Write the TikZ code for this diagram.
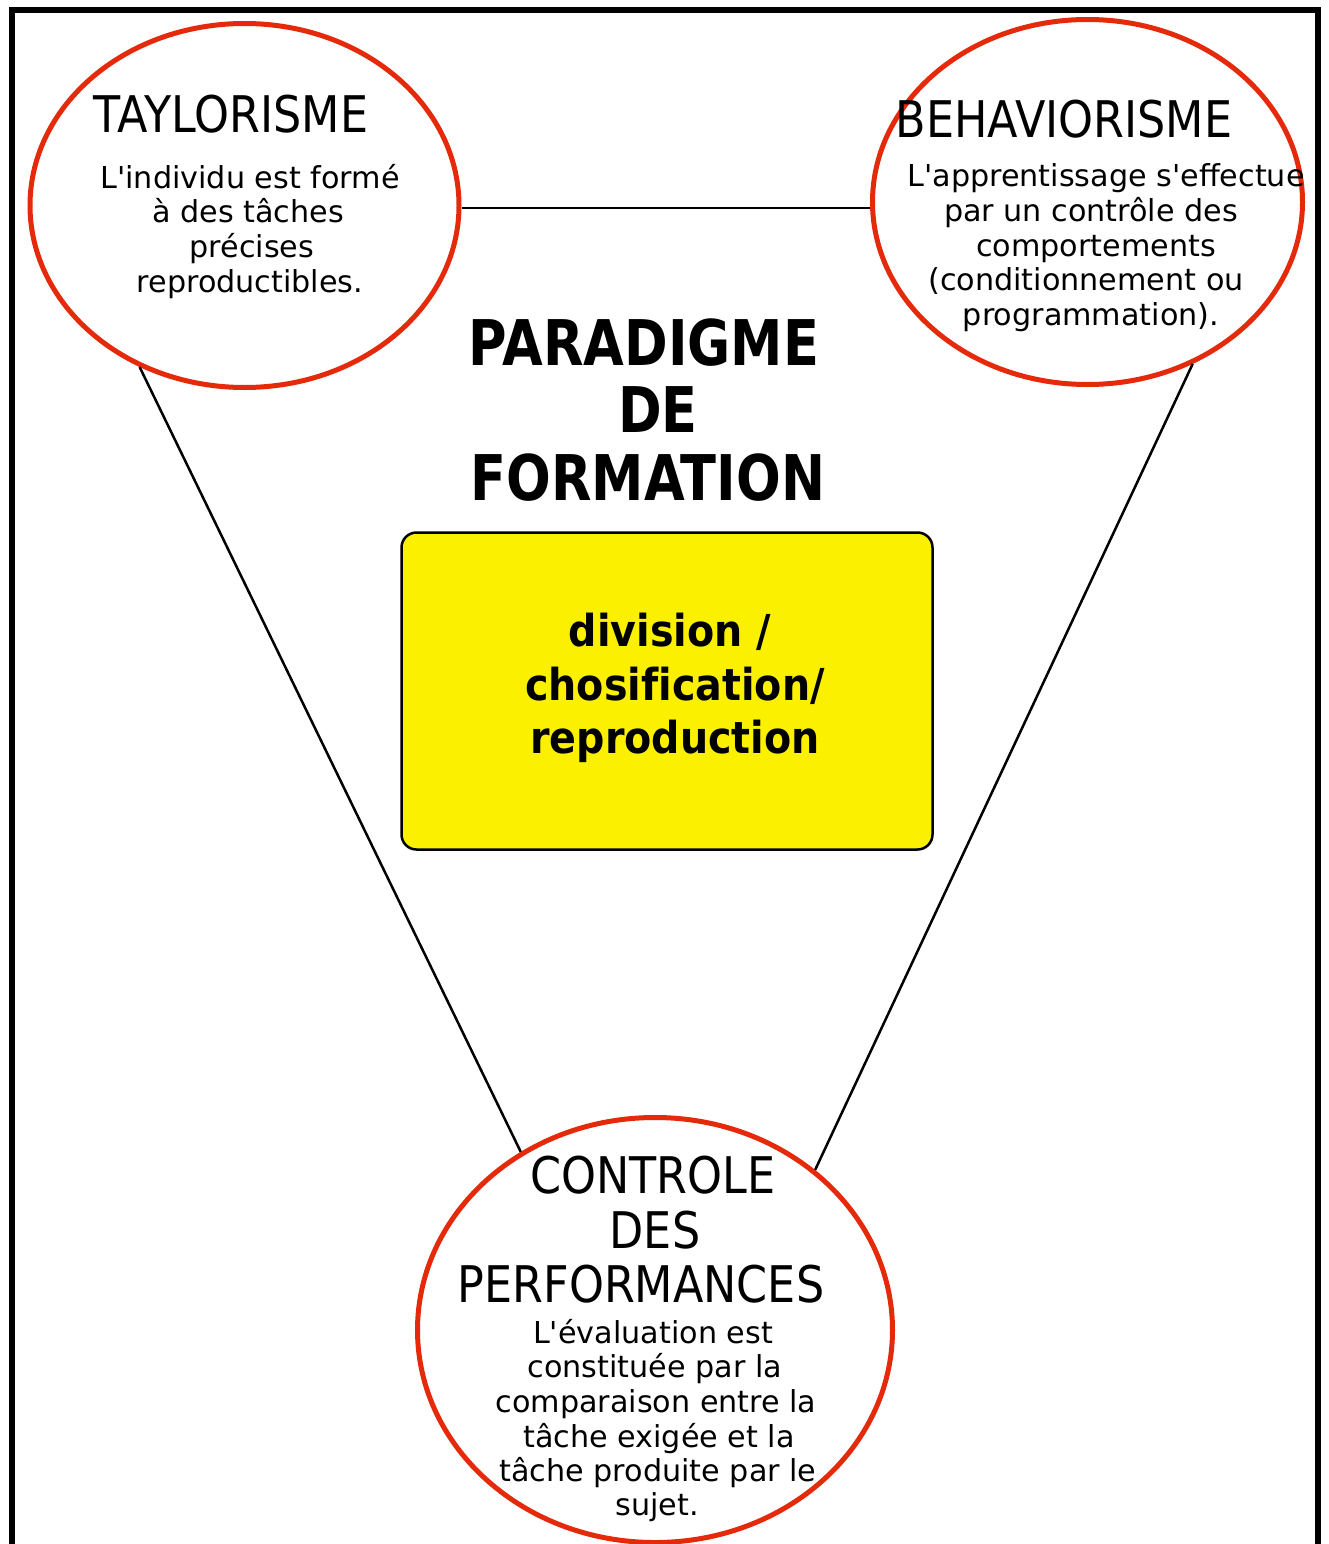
\documentclass[tikz,border=0pt]{standalone}
\usepackage{fontspec}
\setmainfont{DejaVu Sans}
\newfontfamily\headfont[FakeStretch=0.88]{DejaVu Sans}
\newfontfamily\bigfont[FakeStretch=0.835]{DejaVu Sans Bold}
\newfontfamily\boxfont[FakeStretch=0.9,Ligatures=NoCommon]{DejaVu Sans Bold}
\usetikzlibrary{shapes.geometric}
\definecolor{ovalred}{RGB}{228,42,10}
\definecolor{boxyellow}{RGB}{250,240,0}
\newcommand{\sq}{\textquotesingle}
\begin{document}
\begin{tikzpicture}[x=1pt,y=-1pt,
  oval/.style={ellipse, draw=ovalred, line width=5pt, inner sep=0pt},
  head/.style={anchor=base, inner sep=0pt, font=\headfont\fontsize{50.5}{54}\selectfont},
  body/.style={anchor=base, inner sep=0pt, font=\fontsize{30.2}{35}\selectfont},
  big/.style={anchor=base, inner sep=0pt, font=\bigfont\fontsize{63}{68}\selectfont},
  boxtxt/.style={anchor=base, inner sep=0pt, font=\boxfont\fontsize{44}{53}\selectfont},
  link/.style={draw=black, line width=2.5pt}]
\useasboundingbox (0,0) rectangle (1328,1544);
\fill[white] (0,0) rectangle (1328,1544);
% frame
\draw[line width=6pt, line join=miter] (12,1560) -- (12,10) -- (1318,10) -- (1318,1560);
% ovals
\node[oval, minimum width=429pt, minimum height=364pt] (tay) at (244.5,205.5) {};
\node[oval, minimum width=430pt, minimum height=365pt] (beh) at (1087.5,202) {};
\node[oval, minimum width=475pt, minimum height=425pt] (ctrl) at (655,1330) {};
% connectors
\draw[link] (tay.east |- 0,208) -- (beh.west |- 0,208);
\draw[link] (tay.237.1) -- (ctrl.127.6);
\draw[link] (beh.303.9) -- (ctrl.45);
% central box
\node[draw, fill=boxyellow, rounded corners=15pt, line width=2.5pt, minimum width=531pt, minimum height=317pt, inner sep=0pt] (core) at (667,691) {};
\node[boxtxt] (c1) at (670,646) {division /};
\node[boxtxt] (c2) at (675,700) {chosification/};
\node[boxtxt] (c3) at (675,753) {reproduction};
% title
\node[big] (p1) at (644,365) {PARADIGME};
\node[big] (p2) at (658,432) {DE};
\node[big] (p3) at (648,500) {FORMATION};
% Taylorisme
\node[head] (th) at (231,132) {TAYLORISME};
\node[body] (t1) at (250,188) {L\sq individu est formé};
\node[body] (t2) at (248,222) {à des tâches};
\node[body] (t3) at (252,257) {précises};
\node[body] (t4) at (250,292) {reproductibles.};
% Behaviorisme
\node[head] (bh) at (1064,138) {BEHAVIORISME};
\node[body] (b1) at (1106,186) {L\sq apprentissage s\sq effectue};
\node[body] (b2) at (1091,221) {par un contrôle des};
\node[body] (b3) at (1096,256) {comportements};
\node[body] (b4) at (1086,290) {(conditionnement ou};
\node[body] (b5) at (1091,325) {programmation).};
% Controle
\node[head] (ch1) at (653,1193) {CONTROLE};
\node[head] (ch2) at (655,1248) {DES};
\node[head] (ch3) at (641,1302) {PERFORMANCES};
\node[body] (k1) at (653,1343) {L\sq évaluation est};
\node[body] (k2) at (655,1377) {constituée par la};
\node[body] (k3) at (656,1412) {comparaison entre la};
\node[body] (k4) at (659,1447) {tâche exigée et la};
\node[body] (k5) at (658,1481) {tâche produite par le};
\node[body] (k6) at (657,1515) {sujet.};
\end{tikzpicture}
\end{document}
